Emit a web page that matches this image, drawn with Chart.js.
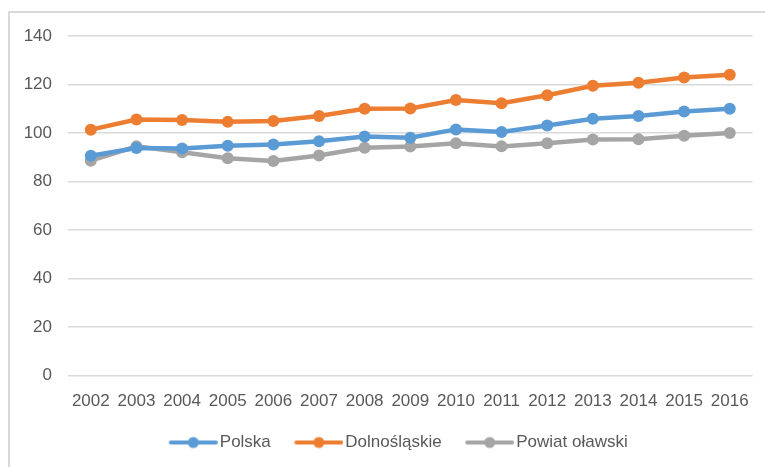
<!DOCTYPE html>
<html>
<head>
<meta charset="utf-8">
<script src="https://cdn.jsdelivr.net/npm/chart.js@4.4.1/dist/chart.umd.min.js"></script>
<style>
  html, body { margin: 0; padding: 0; background: #fff; }
  #wrap { position: relative; width: 765px; height: 467px; overflow: hidden; }
  #frame { position: absolute; left: 8px; top: 11px; right: -5px; bottom: -5px;
           border-left: 2px solid #d9d9d9; border-top: 2px solid #d9d9d9; }
  canvas { position: absolute; left: 0; top: 0; }
</style>
</head>
<body>
<div id="wrap">
  <div id="frame"></div>
  <canvas id="myChart" width="765" height="467"></canvas>
</div>
<script>
const years = ['2002', '2003', '2004', '2005', '2006', '2007', '2008', '2009', '2010', '2011', '2012', '2013', '2014', '2015', '2016'];
const polska = [90.6, 93.8, 93.6, 94.8, 95.3, 96.6, 98.6, 98.1, 101.5, 100.4, 103.1, 105.9, 107.0, 108.9, 110.0];
const dolnoslaskie = [101.4, 105.6, 105.4, 104.6, 105.0, 107.0, 110.0, 110.1, 113.6, 112.3, 115.6, 119.5, 120.7, 122.9, 124.0];
const powiat = [88.6, 94.5, 92.1, 89.6, 88.5, 90.7, 93.9, 94.4, 95.8, 94.5, 95.8, 97.3, 97.4, 98.9, 100.0];
const yTicks = [0, 20, 40, 60, 80, 100, 120, 140];

const textColor = '#595959';
const fontFamily = "'Liberation Sans', Arial, sans-serif";

// legend symbol: line with a dot, drawn off-centre so the text sits close to it
function legendIcon(color) {
    const c = document.createElement('canvas');
    c.width = 73;
    c.height = 14;
    const g = c.getContext('2d');
    g.strokeStyle = color;
    g.lineWidth = 4;
    g.lineCap = 'round';
    g.beginPath();
    g.moveTo(26, 7);
    g.lineTo(71, 7);
    g.stroke();
    g.fillStyle = color;
    g.beginPath();
    g.arc(48.5, 7, 5.5, 0, Math.PI * 2);
    g.fill();
    return c;
}

function series(label, data, color) {
    return {
        label: label,
        data: data,
        borderColor: color,
        backgroundColor: color,
        borderWidth: 4.5,
        pointRadius: 6,
        pointHoverRadius: 6,
        pointBorderWidth: 0,
        tension: 0,
        icon: legendIcon(color)
    };
}

// nudge the legend row a little to the right, like the original
const legendShift = {
    id: 'legendShift',
    afterLayout: function (chart) {
        chart.legend.left += 12;
        chart.legend.right += 12;
    }
};

const ctx = document.getElementById('myChart');

new Chart(ctx, {
    type: 'line',
    data: {
        labels: years,
        datasets: [
            series('Polska', polska, '#5B9BD5'),
            series('Dolnośląskie', dolnoslaskie, '#ED7D31'),
            series('Powiat oławski', powiat, '#A5A5A5')
        ]
    },
    plugins: [legendShift],
    options: {
        responsive: false,
        animation: false,
        layout: {
            padding: { left: 0, right: 10, top: 36, bottom: 6 }
        },
        plugins: {
            tooltip: { enabled: false },
            legend: {
                position: 'bottom',
                labels: {
                    usePointStyle: true,
                    pointStyleWidth: 60,
                    padding: 6,
                    color: textColor,
                    font: { family: fontFamily, size: 17 },
                    generateLabels: function (chart) {
                        return chart.data.datasets.map(function (ds, i) {
                            return {
                                text: ds.label,
                                pointStyle: ds.icon,
                                fillStyle: ds.borderColor,
                                strokeStyle: ds.borderColor,
                                lineWidth: 0,
                                fontColor: textColor,
                                hidden: false,
                                datasetIndex: i
                            };
                        });
                    }
                }
            }
        },
        scales: {
            x: {
                offset: true,
                grid: { display: false, drawTicks: false },
                border: { display: false },
                ticks: {
                    color: textColor,
                    padding: 16,
                    maxRotation: 0,
                    autoSkip: false,
                    font: { family: fontFamily, size: 17 }
                }
            },
            y: {
                min: 0,
                max: 140,
                afterBuildTicks: function (axis) {
                    axis.ticks = yTicks.map(function (v) { return { value: v }; });
                },
                afterFit: function (axis) {
                    axis.width = 68;
                },
                grid: { color: '#d9d9d9', lineWidth: 1.5, drawTicks: false },
                border: { display: false },
                ticks: {
                    color: textColor,
                    padding: 16,
                    font: { family: fontFamily, size: 17 }
                }
            }
        }
    }
});
</script>
</body>
</html>
